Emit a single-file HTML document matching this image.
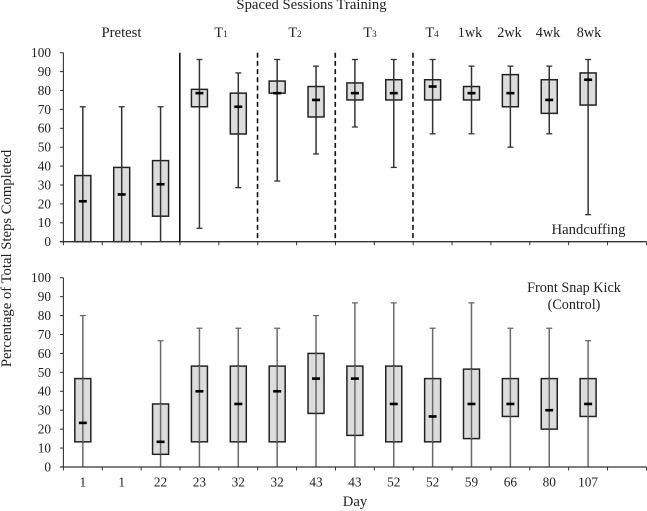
<!DOCTYPE html>
<html>
<head>
<meta charset="utf-8">
<style>
html,body{margin:0;padding:0;background:#fff;width:647px;height:511px;overflow:hidden}
svg{display:block;filter:blur(0.35px)}
text{font-family:"Liberation Serif",serif;font-size:13.3px;fill:#222}
text.lg{font-size:14.7px}
text.ph{font-size:14.2px}
</style>
</head>
<body>
<svg id="chart" width="647" height="511" viewBox="0 0 647 511" xmlns="http://www.w3.org/2000/svg">
<text class="lg" x="311.5" y="9" text-anchor="middle">Spaced Sessions Training</text>
<text class="lg" transform="translate(11,258.5) rotate(-90)" text-anchor="middle">Percentage of Total Steps Completed</text>
<text class="lg" x="355" y="506" text-anchor="middle">Day</text>
<text class="lg" x="588.5" y="234" text-anchor="middle">Handcuffing</text>
<text class="ph" x="574" y="292" text-anchor="middle">Front Snap Kick</text>
<text class="ph" x="574" y="309" text-anchor="middle">(Control)</text>
<text class="lg" x="121.5" y="37" text-anchor="middle">Pretest</text>
<text class="ph" x="221" y="37" text-anchor="middle">T<tspan font-size="9">1</tspan></text>
<text class="ph" x="295" y="37" text-anchor="middle">T<tspan font-size="9">2</tspan></text>
<text class="ph" x="370" y="37" text-anchor="middle">T<tspan font-size="9">3</tspan></text>
<text class="ph" x="432" y="37" text-anchor="middle">T<tspan font-size="9">4</tspan></text>
<text class="ph" x="470" y="37" text-anchor="middle">1wk</text>
<text class="ph" x="509.5" y="37" text-anchor="middle">2wk</text>
<text class="ph" x="548" y="37" text-anchor="middle">4wk</text>
<text class="ph" x="589" y="37" text-anchor="middle">8wk</text>
</svg>
<script>
const dayLabels = ['1','1','22','23','32','32','43','43','52','52','59','66','80','107'];
const yTicks = [0,10,20,30,40,50,60,70,80,90,100];

const topLow    = [0,0,0,7.1,28.6,32.1,46.4,60.7,39.3,57.1,57.1,50,57.1,14.3];
const topQ1     = [0,0,13.5,71.4,57,78.6,66,75,75,75,75,71.4,67.9,72.3];
const topMedian = [21.4,25,30.4,78.6,71.4,78.6,75,78.6,78.6,82.1,78.6,78.6,75,85.7];
const topQ3     = [35,39.3,42.9,80.6,78.6,85,82.1,84,85.7,85.7,82.1,88.4,85.7,89.3];
const topHigh   = [71.4,71.4,71.4,96.4,89.3,96.4,92.9,96.4,96.4,96.4,92.9,92.9,92.9,96.4];

const botLow    = [0,null,0,0,0,0,0,0,0,0,0,0,0,0];
const botQ1     = [13.3,null,6.7,13.3,13.3,13.3,28.3,16.7,13.3,13.3,15,26.7,20,26.7];
const botMedian = [23.3,null,13.3,40,33.3,40,46.7,46.7,33.3,26.7,33.3,33.3,30,33.3];
const botQ3     = [46.7,null,33.3,53.3,53.3,53.3,60,53.3,53.3,46.7,51.7,46.7,46.7,46.7];
const botHigh   = [80,null,66.7,73.3,73.3,73.3,80,86.7,86.7,73.3,86.7,73.3,73.3,66.7];

const categoryCount = 15;
const dividerCategories = [3,5,7,9];

const svg = document.getElementById('chart');
const NS = 'http://www.w3.org/2000/svg';
const xLeft = 63.4, xRight = 646.4;
const band = (xRight - xLeft) / categoryCount;
const xAt = i => xLeft + band * i;
const xCenter = i => xAt(i) + band / 2;

function mk(tag, attrs, parent) {
  const el = document.createElementNS(NS, tag);
  for (const k in attrs) el.setAttribute(k, attrs[k]);
  (parent || svg).appendChild(el);
  return el;
}

function drawPanel(prefix, y0, y100, low, q1, med, q3, high, whiskerColor) {
  const yAt = v => y0 + (y100 - y0) * v / 100;
  const g = mk('g', {});
  
  

  low.forEach((v, i) => {
    if (v === null) return;
    const box = mk('g', {}, g);
    
    
    const cx = xCenter(i);
    mk('line', {x1:cx, x2:cx, y1:yAt(low[i]), y2:yAt(high[i]), stroke:whiskerColor, 'stroke-width':1.5}, box);
    mk('line', {x1:cx-3, x2:cx+3, y1:yAt(high[i]), y2:yAt(high[i]), stroke:whiskerColor, 'stroke-width':1.3}, box);
    if (low[i] > 0) mk('line', {x1:cx-3, x2:cx+3, y1:yAt(low[i]), y2:yAt(low[i]), stroke:whiskerColor, 'stroke-width':1.3}, box);
    mk('rect', {x:cx-8, width:16, y:yAt(q3[i]), height:yAt(q1[i])-yAt(q3[i]), fill:'#dcdcdc', stroke:'#222', 'stroke-width':1.5}, box);
    mk('line', {x1:cx, x2:cx, y1:yAt(q3[i]), y2:yAt(q1[i]), stroke:whiskerColor, 'stroke-width':1.5}, box);
    mk('line', {x1:cx-4, x2:cx+4, y1:yAt(med[i]), y2:yAt(med[i]), stroke:'#000', 'stroke-width':2.6}, box);
  });

  const yAxis = mk('line', {x1:xLeft, x2:xLeft, y1:y0, y2:y100, stroke:'#333', 'stroke-width':1.1}, g);
  
  
  const xAxis = mk('line', {x1:xLeft-3.5, x2:xRight, y1:y0, y2:y0, stroke:'#333', 'stroke-width':1.3}, g);
  
  

  yTicks.forEach(t => {
    mk('line', {x1:xLeft-3.5, x2:xLeft, y1:yAt(t), y2:yAt(t), stroke:'#333', 'stroke-width':1}, g);
    const lab = mk('text', {x:51, y:yAt(t)+4.4, 'text-anchor':'end'}, g);
    
    
    lab.textContent = t;
  });
  for (let i = 0; i <= categoryCount; i++) {
    mk('line', {x1:xAt(i), x2:xAt(i), y1:y0, y2:y0+3.5, stroke:'#333', 'stroke-width':1}, g);
  }
}

drawPanel('top', 241.7, 52.7, topLow, topQ1, topMedian, topQ3, topHigh, '#333');
drawPanel('bottom', 467, 277.7, botLow, botQ1, botMedian, botQ3, botHigh, '#6a6a6a');

dividerCategories.forEach((c, idx) => {
  const attrs = {x1:xAt(c)-0.2, x2:xAt(c)-0.2, y1:52.7, y2:241.7, stroke:'#111', 'stroke-width':1.6};
  if (idx > 0) attrs['stroke-dasharray'] = '5 3.2';
  const d = mk('line', attrs);
  
  
});

dayLabels.forEach((d, i) => {
  const lab = mk('text', {x:xCenter(i), y:486.5, 'text-anchor':'middle'});
  
  
  lab.textContent = d;
});
</script>
</body>
</html>
